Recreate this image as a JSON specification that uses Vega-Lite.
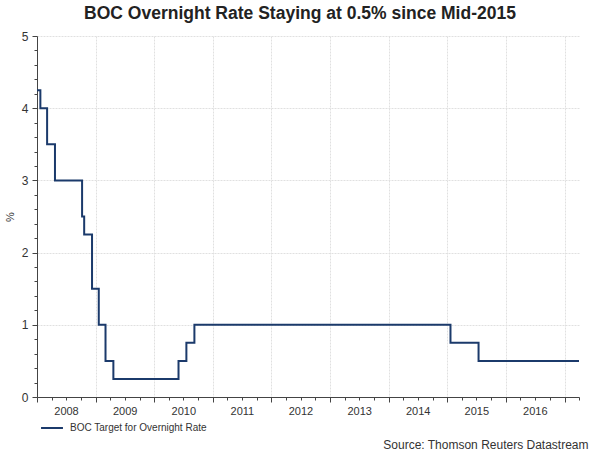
{
  "$schema": "https://vega.github.io/schema/vega-lite/v6.json",
  "autosize": "none",
  "width": 542,
  "height": 361,
  "padding": {"left": 37, "top": 36, "right": 21, "bottom": 54},
  "background": "white",
  "title": {
    "text": "BOC Overnight Rate Staying at 0.5% since Mid-2015",
    "font": "Liberation Sans",
    "fontSize": 17.5,
    "fontWeight": "bold",
    "color": "#222222",
    "offset": 8,
    "dx": -8
  },
  "data": {
    "values": [
      {"date": "2008-01-01T00:00:00", "rate": 4.25, "series": "BOC Target for Overnight Rate"},
      {"date": "2008-01-22T00:00:00", "rate": 4.0, "series": "BOC Target for Overnight Rate"},
      {"date": "2008-03-04T00:00:00", "rate": 3.5, "series": "BOC Target for Overnight Rate"},
      {"date": "2008-04-22T00:00:00", "rate": 3.0, "series": "BOC Target for Overnight Rate"},
      {"date": "2008-10-08T00:00:00", "rate": 2.5, "series": "BOC Target for Overnight Rate"},
      {"date": "2008-10-21T00:00:00", "rate": 2.25, "series": "BOC Target for Overnight Rate"},
      {"date": "2008-12-09T00:00:00", "rate": 1.5, "series": "BOC Target for Overnight Rate"},
      {"date": "2009-01-20T00:00:00", "rate": 1.0, "series": "BOC Target for Overnight Rate"},
      {"date": "2009-03-03T00:00:00", "rate": 0.5, "series": "BOC Target for Overnight Rate"},
      {"date": "2009-04-21T00:00:00", "rate": 0.25, "series": "BOC Target for Overnight Rate"},
      {"date": "2010-06-01T00:00:00", "rate": 0.5, "series": "BOC Target for Overnight Rate"},
      {"date": "2010-07-20T00:00:00", "rate": 0.75, "series": "BOC Target for Overnight Rate"},
      {"date": "2010-09-08T00:00:00", "rate": 1.0, "series": "BOC Target for Overnight Rate"},
      {"date": "2015-01-21T00:00:00", "rate": 0.75, "series": "BOC Target for Overnight Rate"},
      {"date": "2015-07-15T00:00:00", "rate": 0.5, "series": "BOC Target for Overnight Rate"},
      {"date": "2017-04-01T00:00:00", "rate": 0.5, "series": "BOC Target for Overnight Rate"}
    ]
  },
  "mark": {"type": "line", "interpolate": "step-after", "strokeWidth": 2, "clip": true},
  "encoding": {
    "x": {
      "field": "date",
      "type": "temporal",
      "scale": {
        "domain": [
          {"year": 2008, "month": 1, "date": 1},
          {"year": 2017, "month": 4, "date": 1}
        ],
        "nice": false
      },
      "axis": {
        "title": "Source: Thomson Reuters Datastream",
        "titleFont": "Liberation Sans",
        "titleFontSize": 12,
        "titleFontWeight": "normal",
        "titleColor": "#333333",
        "titleAnchor": "end",
        "titleAlign": "right",
        "titleBaseline": "alphabetic",
        "titleX": 551,
        "titleY": 51,
        "tickCount": {"interval": "month", "step": 3},
        "labelExpr": "month(datum.value) == 0 && year(datum.value) < 2017 ? timeFormat(datum.value, '%Y') : ''",
        "labelOffset": 29,
        "labelOverlap": false,
        "labelFlush": false,
        "labelFont": "Liberation Sans",
        "labelFontSize": 11,
        "labelColor": "#333333",
        "labelPadding": 3,
        "tickColor": "#444444",
        "tickSize": {"condition": {"test": "month(datum.value) == 0", "value": 5}, "value": 3},
        "domainColor": "#444444",
        "grid": true,
        "gridColor": "#e0e0e0",
        "gridDash": [2, 1],
        "gridOpacity": {"condition": {"test": "month(datum.value) == 0", "value": 1}, "value": 0}
      }
    },
    "y": {
      "field": "rate",
      "type": "quantitative",
      "scale": {"domain": [0, 5], "nice": false},
      "axis": {
        "title": "%",
        "titleFont": "Liberation Sans",
        "titleFontSize": 11,
        "titleFontWeight": "normal",
        "titleColor": "#333333",
        "titlePadding": 6,
        "values": [0, 0.2, 0.4, 0.6, 0.8, 1, 1.2, 1.4, 1.6, 1.8, 2, 2.2, 2.4, 2.6, 2.8, 3, 3.2, 3.4, 3.6, 3.8, 4, 4.2, 4.4, 4.6, 4.8, 5],
        "labelExpr": "datum.value == round(datum.value) ? format(datum.value, 'd') : ''",
        "labelOverlap": false,
        "labelFont": "Liberation Sans",
        "labelFontSize": 12,
        "labelColor": "#333333",
        "labelPadding": 4,
        "tickColor": "#444444",
        "tickSize": {"condition": {"test": "datum.value == round(datum.value)", "value": 5}, "value": 3},
        "domainColor": "#444444",
        "grid": true,
        "gridColor": "#e0e0e0",
        "gridDash": [2, 1],
        "gridOpacity": {"condition": {"test": "datum.value == round(datum.value)", "value": 1}, "value": 0}
      }
    },
    "color": {
      "field": "series",
      "type": "nominal",
      "scale": {"range": ["#1b3a6b"]},
      "legend": {
        "title": null,
        "orient": "none",
        "legendX": 3,
        "legendY": 380,
        "padding": 0,
        "symbolType": "stroke",
        "symbolSize": 480,
        "symbolStrokeWidth": 2,
        "labelFont": "Liberation Sans",
        "labelFontSize": 10,
        "labelColor": "#333333",
        "labelOffset": 6
      }
    }
  },
  "config": {
    "view": {"stroke": null}
  }
}
